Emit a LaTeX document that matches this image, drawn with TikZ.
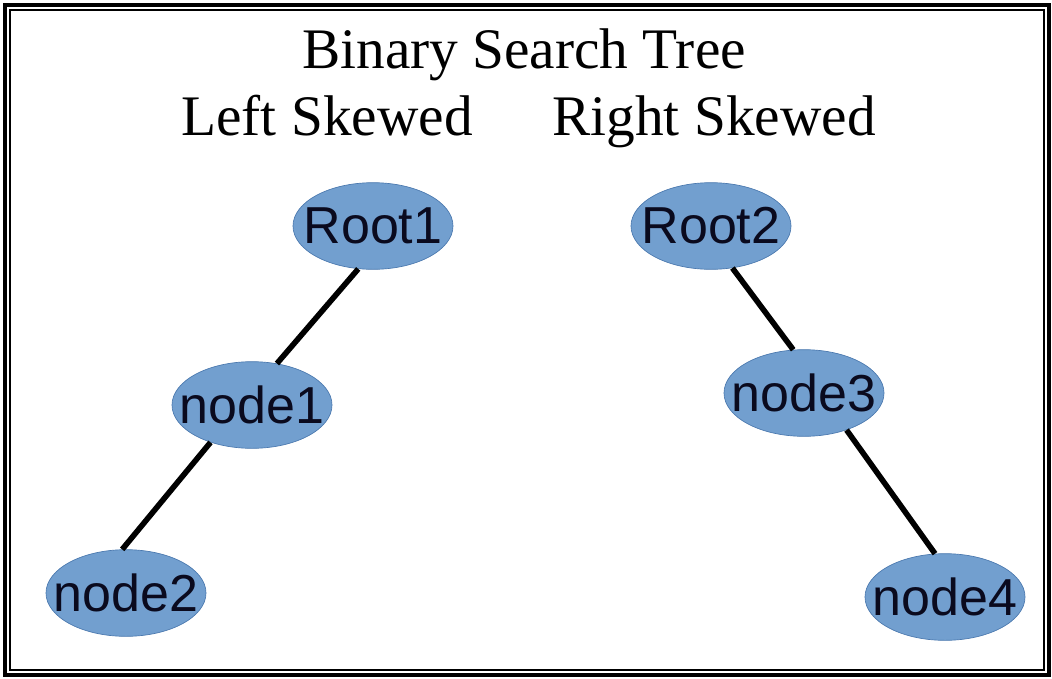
\documentclass[tikz,border=0pt]{standalone}
\usepackage{fontspec}
\setmainfont{Liberation Serif}
\newfontfamily\labelfont{Liberation Sans}
\definecolor{treefill}{HTML}{729FCF}
\definecolor{treeline}{HTML}{4A78AE}
\definecolor{treetext}{HTML}{0A0A1E}

\tikzset{every picture/.style={line width=0.75pt}}
\tikzset{treenode/.style={ellipse, draw=treeline, line width=0.5pt, fill=treefill, text=treetext, minimum width=120pt, minimum height=65pt, inner xsep=-20pt, inner ysep=0pt, font=\labelfont\fontsize{39}{39}\selectfont},
  headtext/.style={inner sep=0pt, anchor=base, font=\fontsize{43}{43}\selectfont},
  treeedge/.style={line width=4.2pt}}
\usetikzlibrary{shapes.geometric}

\begin{document}
\begin{tikzpicture}[x=0.75pt,y=0.75pt,yscale=-1,xscale=1]
\useasboundingbox (0,0) rectangle (1052,678);

%Shape: Rectangle 
\draw [line width=3pt]  (5,5) rectangle (1049,675) ;
%Shape: Rectangle 
\draw [line width=1.5pt]  (9.5,9.5) rectangle (1044,670) ;

% Text Node
\node (title) [headtext] at (524,68) {Binary Search Tree};
% Text Node
\node (lefthead) [headtext] at (327,135) {Left Skewed};
% Text Node
\node (righthead) [headtext] at (714,135) {Right Skewed};

%Shape: Ellipse 
\node (root1) [treenode] at (373,226) {Root1};
%Shape: Ellipse 
\node (node1) [treenode] at (252,405) {node1};
%Shape: Ellipse 
\node (node2) [treenode] at (126,593) {node2};
%Shape: Ellipse 
\node (root2) [treenode] at (711,226) {Root2};
%Shape: Ellipse 
\node (node3) [treenode] at (804,393) {node3};
%Shape: Ellipse 
\node (node4) [treenode] at (945,597) {node4};

%Straight Lines 
\draw [treeedge]  (root1.-109) -- (node1.59) ;
%Straight Lines 
\draw [treeedge]  (node1.-138) -- (node2.95) ;
%Straight Lines 
\draw [treeedge]  (root2.-63) -- (node3.104) ;
%Straight Lines 
\draw [treeedge]  (node3.-41) -- (node4.103) ;

\end{tikzpicture}
\end{document}
